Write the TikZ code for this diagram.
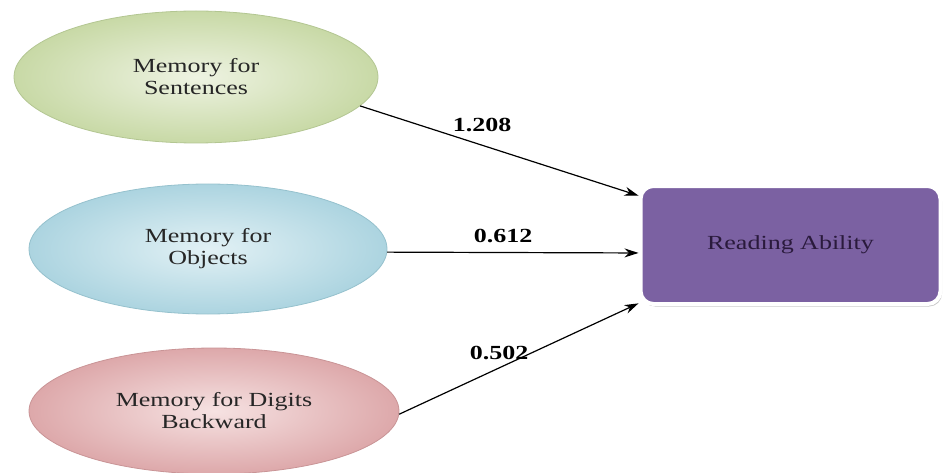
\documentclass[tikz,border=0pt]{standalone}
\usepackage{fontspec}
\setmainfont{Liberation Serif}[FakeStretch=1.3]
\usetikzlibrary{shapes.geometric,shadows,arrows.meta}
\definecolor{gIn}{HTML}{EEF3E2}
\definecolor{gOut}{HTML}{C8D9A6}
\definecolor{gLine}{HTML}{B3C692}
\definecolor{bIn}{HTML}{E2F1F5}
\definecolor{bOut}{HTML}{ACD4E0}
\definecolor{bLine}{HTML}{95C1CD}
\definecolor{pIn}{HTML}{F6E2E2}
\definecolor{pOut}{HTML}{DDA8AA}
\definecolor{pLine}{HTML}{C99496}
\definecolor{purp}{HTML}{7B61A2}
\definecolor{ptext}{HTML}{2A1A3C}
\tikzset{
  memell/.style={ellipse, inner sep=0pt, minimum width=364pt, minimum height=132pt,
    align=center, font=\fontsize{20}{22}\selectfont, text=black!85, line width=0.8pt},
  resbox/.style={rectangle, rounded corners=13pt, minimum width=300pt, minimum height=118pt,
    fill=purp, draw=white, line width=4pt, text=ptext, font=\fontsize{20}{22}\selectfont,
    drop shadow={opacity=0.45, shadow xshift=1.5pt, shadow yshift=-2.5pt}},
  coef/.style={font=\bfseries\fontsize{20}{22}\selectfont, inner sep=1pt},
  path/.style={line width=1.2pt, -{Stealth[length=14pt,width=9pt]}}
}
\begin{document}
\begin{tikzpicture}[x=1pt,y=-1pt]
\useasboundingbox (0,0) rectangle (944,473);
\node[memell, shade, inner color=gIn, outer color=gOut, draw=gLine] (s) at (196,77) {Memory for\\Sentences};
\node[memell, shade, inner color=bIn, outer color=bOut, draw=bLine, minimum width=358pt, minimum height=130pt] (o) at (208,249) {Memory for\\Objects};
\node[memell, shade, inner color=pIn, outer color=pOut, draw=pLine, minimum width=370pt, minimum height=126pt] (d) at (214,411) {Memory for Digits\\Backward};
\node[resbox] (r) at (790.5,245) {Reading Ability};
\draw[path] (s.-10) -- (r.162);
\draw[path] (o.-1.5) -- (r.183);
\draw[path] (d.-1) -- (r.201);
\node[coef] (c1) at (482,125) {1.208};
\node[coef] (c2) at (503,236) {0.612};
\node[coef] (c3) at (499,353) {0.502};
\end{tikzpicture}
\end{document}
